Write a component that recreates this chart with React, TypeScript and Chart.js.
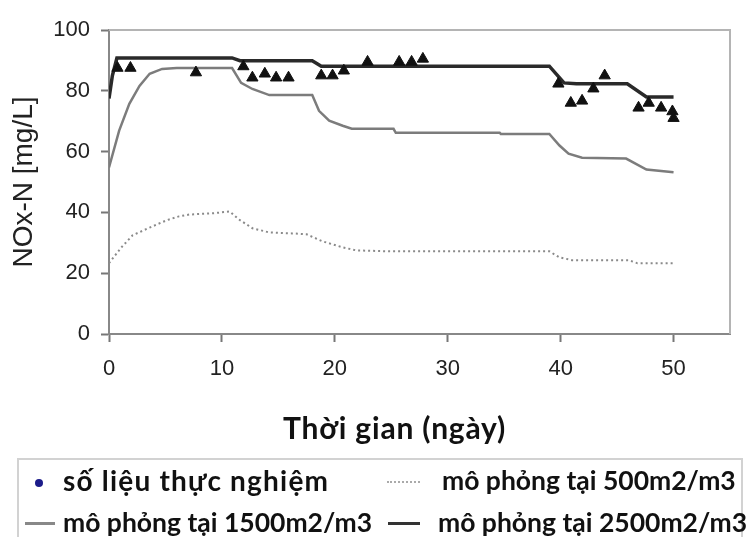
import React, { useEffect, useRef } from "react";
import { Chart, registerables } from "chart.js";
Chart.register(...registerables);

// ---- data ----
const expX = [0.75, 1.9, 7.7, 11.9, 12.7, 13.8, 14.8, 15.9, 18.8, 19.8, 20.8, 22.9, 25.7, 26.8, 27.8, 39.8, 40.9, 41.9, 42.9, 43.9, 46.9, 47.8, 48.9, 49.9, 50];
const expY = [87.5, 87.5, 86, 88, 84.3, 85.6, 84.3, 84.3, 85, 85, 86.6, 89.5, 89.5, 89.5, 90.5, 82.3, 76, 76.7, 80.7, 85, 74.4, 76, 74.4, 73.2, 71];

const sim500X = [0, 1.1, 2.1, 3.6, 5.1, 6.2, 7.1, 9.2, 10.7, 11.5, 12.7, 14.2, 16.2, 17.5, 18.9, 20.7, 21.9, 24.8, 39, 39.9, 41, 46, 46.8, 50];
const sim500Y = [23.3, 28.5, 32.5, 35, 37.4, 38.7, 39.3, 39.7, 40.3, 37.7, 34.8, 33.4, 33.1, 32.8, 30.5, 28.5, 27.5, 27.2, 27.2, 25.2, 24.3, 24.3, 23.3, 23.3];

const sim1500X = [0, 0.9, 1.8, 2.7, 3.6, 4.7, 6, 10.9, 11.7, 12.7, 14.2, 18, 18.6, 19.5, 20.7, 21.5, 25.2, 25.4, 34.6, 34.7, 39, 39.9, 40.7, 41.9, 45.8, 47.6, 50];
const sim1500Y = [54.8, 66.9, 75.7, 81.6, 85.6, 87.2, 87.5, 87.5, 82.6, 80.6, 78.6, 78.6, 73.4, 70.2, 68.5, 67.5, 67.5, 66.2, 66.2, 65.8, 65.8, 62, 59.3, 58, 57.7, 54.1, 53.2];

const sim2500X = [0, 0.3, 0.7, 10.9, 11.6, 18, 18.8, 39, 40.3, 41.4, 45.9, 47.6, 50];
const sim2500Y = [77.5, 85, 90.8, 90.8, 89.9, 89.9, 88.1, 88.1, 82.6, 82.3, 82.3, 78, 78];

const xTickValues = [0, 10, 20, 30, 40, 50];
const yTickValues = [0, 20, 40, 60, 80, 100];

const legendLabels = [
  "số liệu thực nghiệm",
  "mô phỏng tại 500m2/m3",
  "mô phỏng tại 1500m2/m3",
  "mô phỏng tại 2500m2/m3",
];
const xTitle = "Thời gian (ngày)";
const yTitle = "NOx-N [mg/L]";

const toPts = (xs: number[], ys: number[]) => xs.map((x, i) => ({ x, y: ys[i] }));

const framePlugin = {
  id: "frame",
  beforeDatasetsDraw(chart: any) {
    const { ctx, chartArea } = chart;
    ctx.save();
    ctx.strokeStyle = "#b4b4b4";
    ctx.lineWidth = 2;
    ctx.beginPath();
    ctx.moveTo(chartArea.left, chartArea.top);
    ctx.lineTo(chartArea.right, chartArea.top);
    ctx.lineTo(chartArea.right, chartArea.bottom);
    ctx.stroke();
    ctx.restore();
  },
};

const legendFont = "Lato, 'Open Sans', sans-serif";

export default function App() {
  const ref = useRef<HTMLCanvasElement>(null);
  useEffect(() => {
    if (!ref.current) return;
    const tickFont = { family: "'Liberation Sans', Arial, sans-serif", size: 22 };
    const chart = new Chart(ref.current, {
      type: "line",
      data: {
        datasets: [
          {
            type: "scatter",
            label: legendLabels[0],
            data: toPts(expX, expY),
            pointStyle: "triangle",
            pointRadius: 6.5,
            backgroundColor: "#111",
            borderColor: "#111",
            borderWidth: 1,
            showLine: false,
            order: 0,
          } as any,
          {
            label: legendLabels[1],
            data: toPts(sim500X, sim500Y),
            borderColor: "#8a8a8a",
            borderWidth: 2,
            borderDash: [2, 3],
            pointRadius: 0,
            tension: 0,
            order: 1,
          },
          {
            label: legendLabels[2],
            data: toPts(sim1500X, sim1500Y),
            borderColor: "#7c7c7c",
            borderWidth: 2.5,
            pointRadius: 0,
            tension: 0,
            order: 1,
          },
          {
            label: legendLabels[3],
            data: toPts(sim2500X, sim2500Y),
            borderColor: "#2a2a2a",
            borderWidth: 3.5,
            pointRadius: 0,
            tension: 0,
            order: 1,
          },
        ],
      },
      options: {
        animation: false,
        responsive: false,
        devicePixelRatio: 1,
        layout: { padding: { left: 0, top: 30, right: 20, bottom: 79 } },
        plugins: { legend: { display: false }, tooltip: { enabled: false } },
        scales: {
          x: {
            type: "linear",
            min: 0,
            max: 55,
            afterFit: (s: any) => { s.height = 124; },
            afterBuildTicks: (s: any) => { s.ticks = xTickValues.map((v) => ({ value: v })); },
            ticks: { font: tickFont, color: "#222", padding: 14, includeBounds: false, maxRotation: 0 },
            grid: { drawOnChartArea: false, drawTicks: true, tickLength: 8, tickColor: "#777", tickWidth: 2 },
            border: { color: "#888", width: 2 },
            title: { display: false },
          },
          y: {
            min: 0,
            max: 100,
            afterFit: (s: any) => { s.width = 109; },
            afterBuildTicks: (s: any) => { s.ticks = yTickValues.map((v) => ({ value: v })); },
            ticks: { font: tickFont, color: "#222", padding: 11 },
            grid: { drawOnChartArea: false, drawTicks: true, tickLength: 8, tickColor: "#777", tickWidth: 2 },
            border: { color: "#888", width: 2 },
            title: {
              display: true,
              text: yTitle,
              font: { family: "'Liberation Sans', Arial, sans-serif", size: 28 },
              color: "#222",
              padding: { top: 7, bottom: 0 },
            },
          },
        },
      },
      plugins: [framePlugin],
    } as any);
    return () => chart.destroy();
  }, []);

  const textStyle = (left: number, top: number, extra?: React.CSSProperties): React.CSSProperties => ({
    position: "absolute",
    left,
    top,
    fontFamily: legendFont,
    fontWeight: 700,
    fontSize: 26.5,
    lineHeight: "30px",
    color: "#111",
    whiteSpace: "nowrap",
    ...extra,
  });

  return (
    <div style={{ position: "fixed", left: 0, top: 0, width: 750, height: 537, overflow: "hidden", background: "#fff" }}>
      <canvas ref={ref} width={750} height={537} style={{ position: "absolute", left: 0, top: 0 }} />
      <div style={textStyle(283, 409, { fontSize: 30, lineHeight: "36px", letterSpacing: 0.8 })}>{xTitle}</div>
      <div style={{ position: "absolute", left: 17, top: 458, width: 726, height: 100, border: "2px solid #d2d2d2", boxSizing: "border-box" }} />
      <div style={{ position: "absolute", left: 35, top: 479, width: 8, height: 8, borderRadius: 4, background: "#1c1c8a" }} />
      <div style={textStyle(63, 465, { fontSize: 28, letterSpacing: 1.2 })}>{legendLabels[0]}</div>
      <div style={{ position: "absolute", left: 387, top: 481, width: 33, height: 0, borderTop: "2px dotted #aaa" }} />
      <div style={textStyle(442, 465)}>{legendLabels[1]}</div>
      <div style={{ position: "absolute", left: 25, top: 522, width: 30, height: 3, background: "#888" }} />
      <div style={textStyle(63, 507)}>{legendLabels[2]}</div>
      <div style={{ position: "absolute", left: 388, top: 522, width: 32, height: 3, background: "#333" }} />
      <div style={textStyle(438, 507)}>{legendLabels[3]}</div>
    </div>
  );
}
